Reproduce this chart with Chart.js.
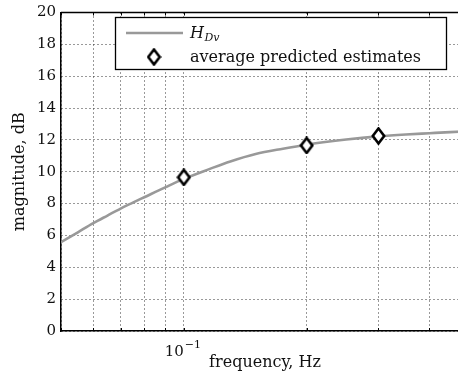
<!DOCTYPE html>
<html lang="en">
<head>
  <meta charset="UTF-8" />
  <title>Magnitude response</title>
  <script src="https://cdn.jsdelivr.net/npm/chart.js"></script>
  <style>
    html, body { margin: 0; padding: 0; background: #fff; overflow: hidden; }
    #wrap { width: 458px; height: 375px; overflow: hidden; }
    #wrap div { width: 478px; height: 375px; }
  </style>
</head>
<body>
  <div id="wrap"><div><canvas id="magChart" width="478" height="375"></canvas></div></div>

  <script>
    // model curve H_Dv (magnitude in dB vs frequency in Hz)
    const curveFreq = [0.05, 0.055, 0.06, 0.065, 0.07, 0.075, 0.08, 0.09, 0.1, 0.115, 0.13, 0.15, 0.175, 0.2, 0.25, 0.3, 0.35, 0.4, 0.45, 0.5];
    const curveMag  = [5.58, 6.2, 6.77, 7.25, 7.69, 8.06, 8.4, 9.02, 9.55, 10.15, 10.65, 11.12, 11.45, 11.7, 12.02, 12.22, 12.34, 12.42, 12.49, 12.55];

    // averaged estimates
    const estFreq = [0.1, 0.2, 0.3];
    const estMag  = [9.65, 11.65, 12.25];

    const gridFreq = [0.05, 0.06, 0.07, 0.08, 0.09, 0.1, 0.2, 0.3, 0.4, 0.5];
    const yTicks = [0, 2, 4, 6, 8, 10, 12, 14, 16, 18, 20];

    const FONT = 'DejaVu Serif';
    const FS = 15;   // tick labels
    const FT = 16;   // titles and legend

    // tall white diamond marker
    function diamondMarker() {
      const c = document.createElement('canvas');
      c.width = 15; c.height = 18;
      const g = c.getContext('2d');
      g.beginPath();
      g.moveTo(7.5, 1.5); g.lineTo(13.2, 9); g.lineTo(7.5, 16.5); g.lineTo(1.8, 9); g.closePath();
      g.fillStyle = '#fff'; g.fill();
      g.lineWidth = 2.6; g.strokeStyle = '#000'; g.lineJoin = 'miter'; g.stroke();
      return c;
    }
    const marker = diamondMarker();

    const frame = {
      id: 'frame',
      afterDatasetsDraw(chart) {
        const { ctx, chartArea: a } = chart;
        const xs = chart.scales.x;
        ctx.save();
        // top border
        ctx.strokeStyle = '#000'; ctx.lineWidth = 1.5;
        ctx.beginPath(); ctx.moveTo(a.left, a.top); ctx.lineTo(a.right, a.top); ctx.stroke();
        // small inner ticks on top and bottom edges
        ctx.lineWidth = 1;
        gridFreq.forEach(f => {
          const px = Math.round(xs.getPixelForValue(f)) + 0.5;
          ctx.beginPath(); ctx.moveTo(px, a.top); ctx.lineTo(px, a.top + 3); ctx.stroke();
          ctx.beginPath(); ctx.moveTo(px, a.bottom); ctx.lineTo(px, a.bottom - 3); ctx.stroke();
        });

        // decade label 10^-1 under its gridline
        const dx = xs.getPixelForValue(0.1);
        ctx.fillStyle = '#111'; ctx.textBaseline = 'alphabetic'; ctx.textAlign = 'left';
        ctx.font = FS + 'px "' + FONT + '"';
        ctx.fillText('10', dx - 19, a.bottom + 25);
        ctx.font = '11px "' + FONT + '"';
        ctx.fillText('\u22121', dx + 1, a.bottom + 17);

        // legend box
        const bx = 115, by = 17, bw = 331, bh = 52;
        ctx.fillStyle = '#fff';
        ctx.fillRect(bx, by, bw, bh);
        ctx.lineWidth = 1.3; ctx.strokeStyle = '#000';
        ctx.strokeRect(bx + 0.5, by + 0.5, bw, bh);

        ctx.strokeStyle = '#999'; ctx.lineWidth = 2.6;
        ctx.beginPath(); ctx.moveTo(126, 33); ctx.lineTo(183, 33); ctx.stroke();
        ctx.drawImage(marker, 154 - 7.5, 57 - 9);

        ctx.fillStyle = '#111';
        ctx.font = 'italic ' + FT + 'px "' + FONT + '"';
        ctx.fillText('H', 190, 38);
        const hw = ctx.measureText('H').width;
        ctx.font = 'italic 11px "' + FONT + '"';
        ctx.fillText('Dv', 190 + hw + 0.5, 41);
        ctx.font = FT + 'px "' + FONT + '"';
        ctx.fillText('average predicted estimates', 190, 62);
        ctx.restore();
      }
    };

    new Chart(document.getElementById('magChart'), {
      type: 'line',
      data: {
        datasets: [
          {
            label: 'H_Dv',
            data: curveFreq.map((f, i) => ({ x: f, y: curveMag[i] })),
            borderColor: '#999',
            borderWidth: 2.6,
            pointRadius: 0,
            cubicInterpolationMode: 'monotone',
            order: 2
          },
          {
            label: 'average predicted estimates',
            data: estFreq.map((f, i) => ({ x: f, y: estMag[i] })),
            showLine: false,
            pointStyle: marker,
            pointRadius: 8,
            order: 1
          }
        ]
      },
      options: {
        responsive: false,
        animation: false,
        layout: { padding: { top: 11, right: 2, left: 0, bottom: 0 } },
        plugins: { legend: { display: false }, tooltip: { enabled: false } },
        scales: {
          x: {
            type: 'logarithmic',
            min: 0.05,
            max: 0.5,
            afterBuildTicks: s => { s.ticks = gridFreq.map(v => ({ value: v })); },
            afterFit: s => { s.height = 44; },
            border: { color: '#000', width: 1.5, dash: [1, 3] },
            grid: { color: '#333', lineWidth: 1, drawTicks: false },
            ticks: {
              autoSkip: false,
              maxRotation: 0,
              padding: 7,
              font: { family: FONT, size: FS },
              callback: () => ''
            },
            title: {
              display: true,
              text: 'frequency, Hz',
              color: '#111',
              font: { family: FONT, size: FT },
              padding: { top: 0, bottom: 3 }
            }
          },
          y: {
            min: 0,
            max: 20,
            afterBuildTicks: s => { s.ticks = yTicks.map(v => ({ value: v })); },
            afterFit: s => { s.width = 61; },
            border: { color: '#000', width: 1.5, dash: [1, 3] },
            grid: { color: '#333', lineWidth: 1, drawTicks: false },
            ticks: {
              padding: 5,
              color: '#111',
              font: { family: FONT, size: FS, lineHeight: 1 },
              callback: v => String(v)
            },
            title: {
              display: true,
              text: 'magnitude, dB',
              color: '#111',
              font: { family: FONT, size: FT },
              padding: { top: 10, bottom: 0 }
            }
          }
        }
      },
      plugins: [frame]
    });
  </script>
</body>
</html>
